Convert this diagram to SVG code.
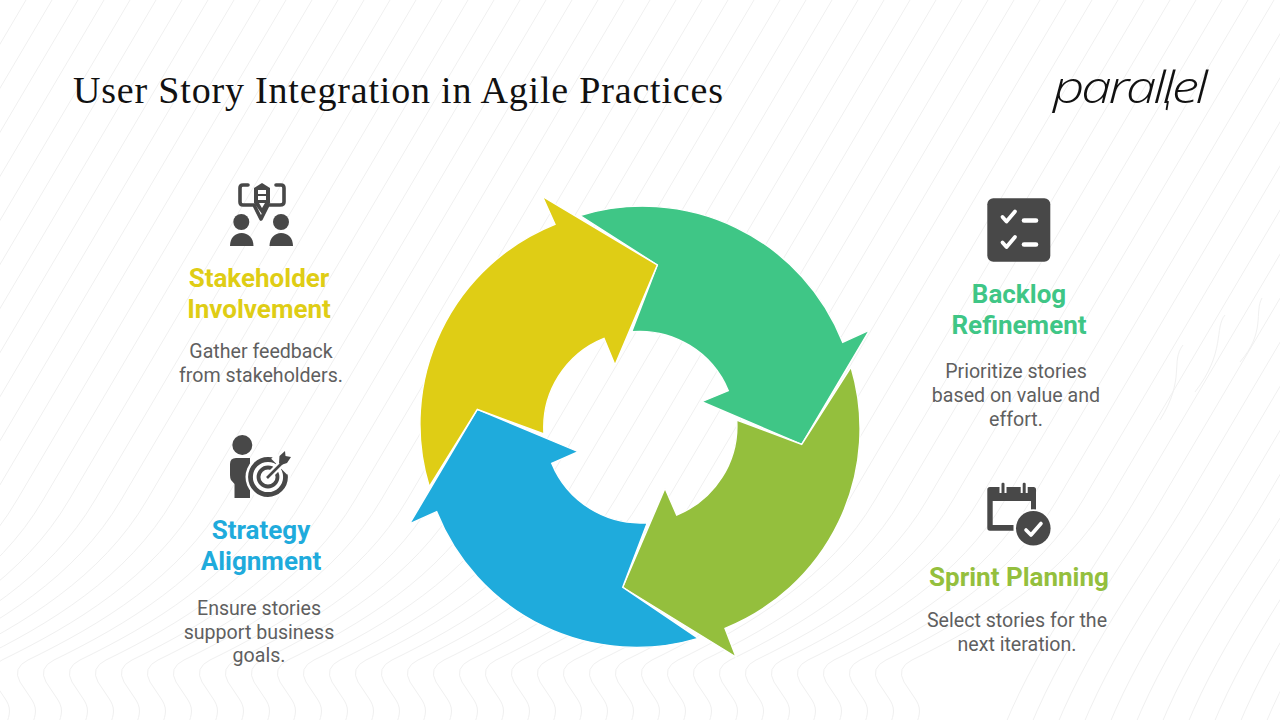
<svg xmlns="http://www.w3.org/2000/svg" xmlns:xlink="http://www.w3.org/1999/xlink" width="1280" height="720" viewBox="0 0 1280 720">
<style>
.bgl{fill:none;stroke:#f0f0f0;stroke-width:1}
.arrow{stroke:#fff;stroke-width:1.4;stroke-linejoin:miter}
.h{font-family:Roboto,"Liberation Sans",sans-serif;font-weight:700;font-size:26px;text-anchor:middle}
.d{font-family:Roboto,"Liberation Sans",sans-serif;font-weight:400;font-size:19.6px;fill:#5f5f5f;text-anchor:middle}
.ic{fill:#484848}
.ln{fill:none;stroke:#484848}
.wl{fill:none;stroke:#fff}
</style>
<defs>
<path id="w" class="bgl" d="M0,0 L-295,500 C-340,577 -420,625 -492,660 Q-508,668 -500,682 L-490,697 C-482,708 -484,714 -488,725"/>
<path id="s" class="bgl" d="M0,0 L-295,500 C-330,560 -390,640 -425,725"/>
</defs>
<rect width="1280" height="720" fill="#ffffff"/>
<g id="background">
<use xlink:href="#w" x="26"/><use xlink:href="#w" x="52"/><use xlink:href="#w" x="78"/><use xlink:href="#w" x="104"/><use xlink:href="#w" x="130"/><use xlink:href="#w" x="156"/><use xlink:href="#w" x="182"/><use xlink:href="#w" x="208"/><use xlink:href="#w" x="234"/><use xlink:href="#w" x="260"/><use xlink:href="#w" x="286"/><use xlink:href="#w" x="312"/><use xlink:href="#w" x="338"/><use xlink:href="#w" x="364"/><use xlink:href="#w" x="390"/><use xlink:href="#w" x="416"/><use xlink:href="#w" x="442"/><use xlink:href="#w" x="468"/><use xlink:href="#w" x="494"/><use xlink:href="#w" x="520"/><use xlink:href="#w" x="546"/><use xlink:href="#w" x="572"/><use xlink:href="#w" x="598"/><use xlink:href="#w" x="624"/><use xlink:href="#w" x="650"/><use xlink:href="#w" x="676"/><use xlink:href="#w" x="702"/><use xlink:href="#w" x="728"/><use xlink:href="#w" x="754"/><use xlink:href="#w" x="780"/><use xlink:href="#w" x="806"/><use xlink:href="#w" x="832"/><use xlink:href="#w" x="858"/><use xlink:href="#w" x="884"/><use xlink:href="#w" x="910"/><use xlink:href="#w" x="936"/><use xlink:href="#w" x="962"/><use xlink:href="#w" x="988"/><use xlink:href="#w" x="1014"/><use xlink:href="#w" x="1040"/><use xlink:href="#w" x="1066"/><use xlink:href="#w" x="1092"/><use xlink:href="#w" x="1118"/><use xlink:href="#w" x="1144"/><use xlink:href="#w" x="1170"/><use xlink:href="#w" x="1196"/><use xlink:href="#w" x="1222"/><use xlink:href="#w" x="1248"/><use xlink:href="#w" x="1274"/><use xlink:href="#w" x="1300"/><use xlink:href="#w" x="1326"/><use xlink:href="#w" x="1352"/><use xlink:href="#w" x="1378"/><use xlink:href="#w" x="1404"/>
<use xlink:href="#s" x="1430"/><use xlink:href="#s" x="1456"/><use xlink:href="#s" x="1482"/><use xlink:href="#s" x="1508"/><use xlink:href="#s" x="1534"/><use xlink:href="#s" x="1560"/><use xlink:href="#s" x="1586"/><use xlink:href="#s" x="1612"/><use xlink:href="#s" x="1638"/><use xlink:href="#s" x="1664"/><use xlink:href="#s" x="1690"/><use xlink:href="#s" x="1716"/><use xlink:href="#s" x="1742"/><use xlink:href="#s" x="1768"/><use xlink:href="#s" x="1794"/><use xlink:href="#s" x="1820"/>
<path class="bgl" d="M1183,345 C1170,362 1186,378 1160,420"/>
<path class="bgl" d="M1225,315 C1214,328 1226,352 1195,392"/>
<path class="bgl" d="M1262,298 C1254,312 1266,332 1240,362"/>
</g>
<text id="title" x="73" y="103" font-family="'Liberation Serif',serif" font-size="38" fill="#111" textLength="650" lengthAdjust="spacing">User Story Integration in Agile Practices</text>
<g id="logo">
<text transform="translate(1053,102.5) scale(1.25,1)" font-family="'Open Sans',sans-serif" font-weight="300" font-style="italic" font-size="44" fill="#111" textLength="124" lengthAdjust="spacing">parallel</text>
<path d="M1168,101 L1166.5,110" fill="none" stroke="#111" stroke-width="1.8"/>
</g>
<g id="cycle">
<path id="arrow-green" class="arrow" fill="#3FC686" d="M580,215.5 A215,215 0 0 1 842.7,342.3 L869.5,330 L801.7,444.3 L701.7,401.7 L728.3,390.7 A96,96 0 0 0 631.7,331.7 L657.3,265 Z"/>
<path id="arrow-olive" class="arrow" fill="#94BF3D" d="M851,367 A215,215 0 0 1 725,628.3 L736,657 L622.7,587.3 L665,488.3 L676.7,515 A96,96 0 0 0 736.7,420 L801.7,444.3 Z"/>
<path id="arrow-blue" class="arrow" fill="#1FABDC" d="M698.3,638.3 A215,215 0 0 1 436.7,511.7 L409.5,524 L477.3,409.3 L578.3,451.7 L551.7,463.3 A96,96 0 0 0 647.3,522.7 L622.7,587.3 Z"/>
<path id="arrow-yellow" class="arrow" fill="#DFCD15" d="M429.3,486.7 A215,215 0 0 1 555,224.3 L542.5,196.5 L657.3,265 L615,365 L604,338.3 A96,96 0 0 0 544,434 L477.3,409.3 Z"/>
</g>
<g id="node-stakeholder">
<path class="ln" stroke-width="3.6" stroke-linecap="round" stroke-linejoin="round" d="M248,185 H243 Q240,185 240,188 V202 Q240,205 243,205 H254 L261,219 L268,205 H280 Q284,205 284,202 V188 Q284,185 281,185 H276"/>
<path class="ic" d="M262,183 L270,188 V203 L262,214 L254,203 V188 Z"/>
<rect x="258" y="190" width="8" height="10" fill="#fff"/>
<rect x="258" y="194" width="8" height="2" class="ic"/>
<path d="M259,203 H265 L262,208 Z" fill="#fff"/>
<circle class="ic" cx="241.3" cy="222" r="8"/><circle class="ic" cx="281" cy="222" r="8"/>
<path class="ic" d="M230,246 C230,238 235,233 241.7,233 C248,233 253.5,238 253.5,246 Z"/>
<path class="ic" d="M269.5,246 C269.5,238 275,233 281,233 C288,233 293,238 293,246 Z"/>
<text class="h" x="259" y="286.6" fill="#DFCD15">Stakeholder</text>
<text class="h" x="259" y="317.6" fill="#DFCD15">Involvement</text>
<text class="d" x="261" y="358.4">Gather feedback</text>
<text class="d" x="261" y="382.4">from stakeholders.</text>
</g>
<g id="node-strategy">
<circle class="ic" cx="242.3" cy="445" r="10"/>
<path class="ic" d="M236,458 H250 V498 H234.5 V484 L231,480 Q230,478 230,475 V464 Q230,458 236,458 Z"/>
<circle cx="268" cy="477" r="22.5" fill="#fff"/>
<circle class="ln" cx="268" cy="477" r="17.5" stroke-width="4.8"/>
<circle class="ln" cx="268" cy="477" r="9.5" stroke-width="3.8"/>
<path class="wl" stroke-width="7" d="M268,477 L284,461"/>
<path class="wl" stroke-width="8" d="M274,456 L290,472"/>
<path class="ln" stroke-width="2.6" d="M267,478 L283,462"/>
<path class="ic" d="M279,463 L279.5,456 L285,451 L285.5,456 L291,457 L287,463 L281,465 Z"/>
<text class="h" x="261" y="538.6" fill="#1FABDC">Strategy</text>
<text class="h" x="261" y="569.6" fill="#1FABDC">Alignment</text>
<text class="d" x="259" y="615">Ensure stories</text>
<text class="d" x="259" y="638.5">support business</text>
<text class="d" x="259" y="662">goals.</text>
</g>
<g id="node-backlog">
<rect class="ic" x="987.3" y="198.3" width="63" height="63.4" rx="6"/>
<path class="wl" stroke-width="3.8" stroke-linecap="round" stroke-linejoin="round" d="M1002.5,217 L1006.5,221.5 L1015,211.5"/>
<path class="wl" stroke-width="3.8" stroke-linecap="round" stroke-linejoin="round" d="M1002.5,242.5 L1006.5,247 L1015,237"/>
<path class="wl" stroke-width="4.6" stroke-linecap="round" d="M1024,220.5 H1036"/>
<path class="wl" stroke-width="4.6" stroke-linecap="round" d="M1024,244.5 H1036"/>
<text class="h" x="1019" y="302.6" fill="#3FC686">Backlog</text>
<text class="h" x="1019" y="333.6" fill="#3FC686">Refinement</text>
<text class="d" x="1016" y="378">Prioritize stories</text>
<text class="d" x="1016" y="402">based on value and</text>
<text class="d" x="1016" y="426">effort.</text>
</g>
<g id="node-sprint">
<path class="ic" fill-rule="evenodd" d="M990,487 H1033.5 Q1036,487 1036,489.5 V528 Q1036,530.7 1033.5,530.7 H990 Q987.3,530.7 987.3,528 V489.5 Q987.3,487 990,487 Z M992.7,501 V525 H1031 V501 Z"/>
<rect x="999.5" y="482" width="7" height="11" fill="#fff"/><rect x="1020.7" y="482" width="7" height="11" fill="#fff"/>
<rect class="ic" x="1001.5" y="482.7" width="3" height="12" rx="1.2"/><rect class="ic" x="1022.7" y="482.7" width="3" height="12" rx="1.2"/>
<rect x="1013.5" y="512" width="25" height="20" fill="#fff"/>
<circle cx="1033.3" cy="528.3" r="19" fill="#fff"/>
<circle class="ic" cx="1033.3" cy="528.3" r="17.3"/>
<path class="wl" stroke-width="3.6" stroke-linecap="round" stroke-linejoin="round" d="M1026,530 L1031,535 L1041,523.5"/>
<text class="h" x="1019" y="585.6" fill="#94BF3D">Sprint Planning</text>
<text class="d" x="1017" y="627">Select stories for the</text>
<text class="d" x="1017" y="651">next iteration.</text>
</g>
</svg>
